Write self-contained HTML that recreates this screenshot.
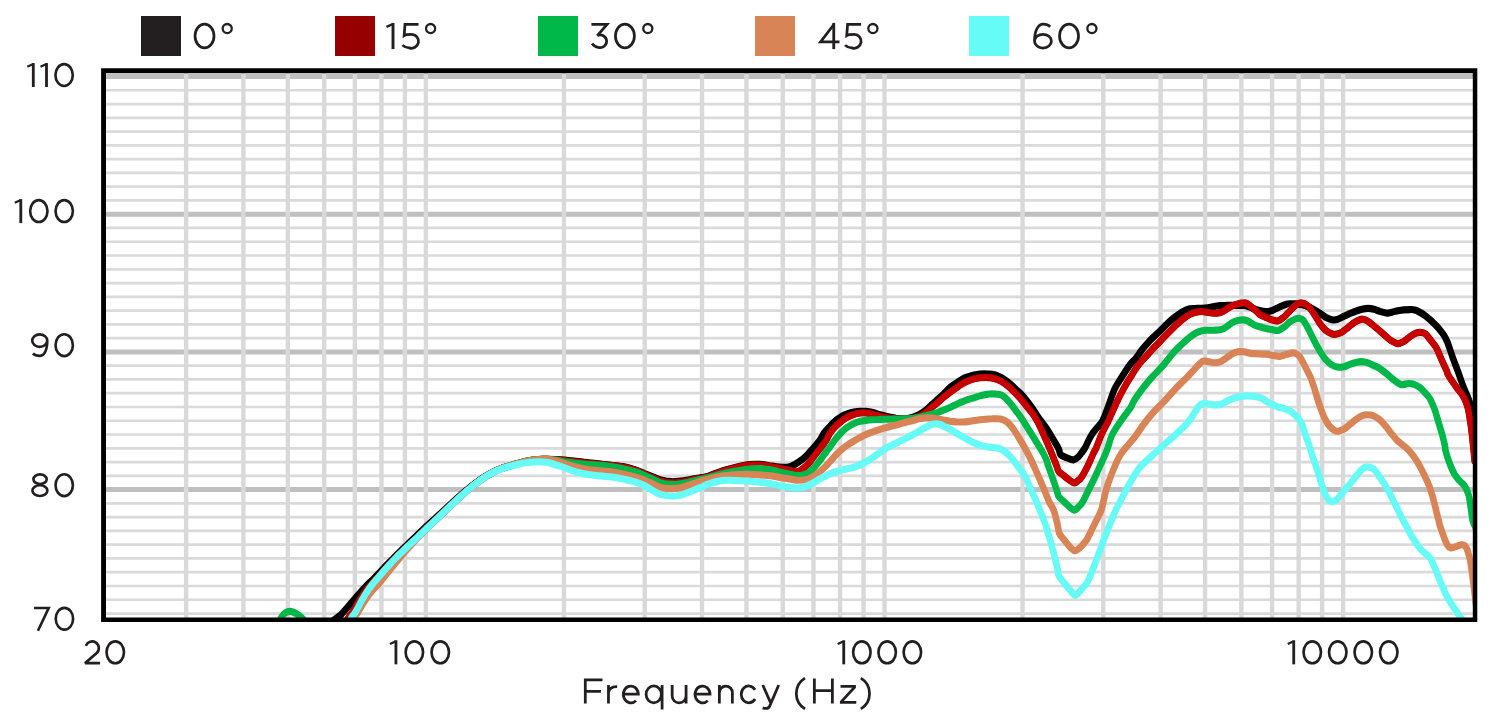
<!DOCTYPE html>
<html><head><meta charset="utf-8"><title>Frequency response</title>
<style>html,body{margin:0;padding:0;background:#fff;}body{width:1501px;height:721px;overflow:hidden;}svg{display:block;}text{font-family:"Liberation Sans",sans-serif;fill:#231f20;fill-opacity:0;stroke:none;}</style></head><body>
<svg width="1501" height="721" viewBox="0 0 1501 721">
<rect width="1501" height="721" fill="#fff"/>
<defs><clipPath id="c"><rect x="103.5" y="70.7" width="1371.4" height="548.9"/></clipPath></defs>
<g clip-path="url(#c)">
<path d="M103.5 613.53H1474.9M103.5 599.76H1474.9M103.5 585.99H1474.9M103.5 572.22H1474.9M103.5 558.45H1474.9M103.5 544.68H1474.9M103.5 530.91H1474.9M103.5 517.14H1474.9M103.5 503.37H1474.9M103.5 475.83H1474.9M103.5 462.06H1474.9M103.5 448.29H1474.9M103.5 434.52H1474.9M103.5 420.75H1474.9M103.5 406.98H1474.9M103.5 393.21H1474.9M103.5 379.44H1474.9M103.5 365.67H1474.9M103.5 338.13H1474.9M103.5 324.36H1474.9M103.5 310.59H1474.9M103.5 296.82H1474.9M103.5 283.05H1474.9M103.5 269.28H1474.9M103.5 255.51H1474.9M103.5 241.74H1474.9M103.5 227.97H1474.9M103.5 200.43H1474.9M103.5 186.66H1474.9M103.5 172.89H1474.9M103.5 159.12H1474.9M103.5 145.35H1474.9M103.5 131.58H1474.9M103.5 117.81H1474.9M103.5 104.04H1474.9M103.5 90.27H1474.9" stroke="#dadada" stroke-width="2.7" fill="none"/>
<path d="M103.5 627.30H1474.9M103.5 489.60H1474.9M103.5 351.90H1474.9M103.5 214.20H1474.9M103.5 76.50H1474.9" stroke="#bfbfbf" stroke-width="5" fill="none"/>
<path d="M186.11 70.7V619.6M243.40 70.7V619.6M287.85 70.7V619.6M324.16 70.7V619.6M354.86 70.7V619.6M381.46 70.7V619.6M404.92 70.7V619.6M425.90 70.7V619.6M563.95 70.7V619.6M644.71 70.7V619.6M702.00 70.7V619.6M746.45 70.7V619.6M782.76 70.7V619.6M813.46 70.7V619.6M840.06 70.7V619.6M863.52 70.7V619.6M884.50 70.7V619.6M1022.55 70.7V619.6M1103.31 70.7V619.6M1160.60 70.7V619.6M1205.05 70.7V619.6M1241.36 70.7V619.6M1272.06 70.7V619.6M1298.66 70.7V619.6M1322.12 70.7V619.6M1343.10 70.7V619.6" stroke="#d9d9d9" stroke-width="4.4" fill="none"/>
<g transform="scale(0.930,1)">
<path d="M341.4 632.0C345.1 629.5 359.1 620.1 363.5 617.0C367.9 613.9 366.1 615.2 367.8 613.5C369.6 611.8 372.3 608.8 374.0 607.0C375.6 605.2 376.5 604.1 377.7 602.8C379.0 601.5 379.7 600.6 381.3 599.0C382.8 597.4 384.9 595.2 387.0 593.0C389.1 590.8 391.5 588.2 393.8 586.0C396.1 583.8 398.4 581.8 400.9 579.5C403.3 577.2 406.2 574.6 408.6 572.2C411.0 569.8 413.2 567.6 415.5 565.3C417.9 563.0 420.3 560.7 422.7 558.5C425.1 556.2 427.6 553.9 430.2 551.6C432.7 549.3 435.4 547.0 438.0 544.7C440.5 542.4 443.1 540.1 445.6 537.8C448.2 535.5 449.8 533.9 453.3 530.9C456.8 527.9 462.2 523.3 466.7 519.6C471.1 515.8 475.5 511.9 479.9 508.2C484.4 504.4 488.7 500.6 493.1 497.0C497.5 493.4 501.9 489.8 506.3 486.6C510.7 483.4 515.8 480.1 519.5 477.8C523.2 475.6 525.3 474.5 528.4 473.0C531.4 471.5 534.3 470.2 537.6 469.0C541.0 467.8 544.8 466.8 548.4 465.8C552.0 464.8 555.6 463.9 559.1 463.0C562.7 462.1 566.6 461.2 569.9 460.6C573.2 460.0 576.2 459.7 579.1 459.5C582.1 459.3 584.8 459.4 587.7 459.4C590.7 459.4 593.7 459.5 596.8 459.6C599.9 459.7 602.7 459.8 606.4 460.1C610.2 460.4 615.0 461.0 619.3 461.4C623.6 461.9 627.9 462.3 632.2 462.7C636.5 463.2 640.8 463.6 645.1 464.1C649.4 464.5 653.7 464.8 658.0 465.3C662.3 465.7 666.6 466.0 670.9 466.8C675.2 467.6 680.1 468.9 683.8 470.1C687.5 471.2 690.0 472.4 693.2 473.7C696.4 474.9 700.4 476.4 703.1 477.4C705.9 478.4 707.4 479.0 709.6 479.7C711.7 480.3 713.9 480.7 716.0 481.1C718.2 481.4 720.3 481.6 722.5 481.7C724.6 481.7 726.8 481.6 728.9 481.4C731.1 481.3 732.2 481.3 735.4 480.8C738.6 480.4 745.0 479.1 748.3 478.6C751.5 478.0 752.6 478.0 754.7 477.6C756.9 477.3 757.2 477.6 761.2 476.4C765.1 475.2 771.6 472.3 778.5 470.4C785.3 468.5 795.9 465.9 802.3 464.9C808.8 463.9 812.5 464.2 817.2 464.4C821.8 464.6 826.0 465.6 830.1 466.1C834.1 466.6 838.4 467.2 841.7 467.3C844.9 467.4 847.0 467.2 849.4 466.6C851.8 466.0 853.7 465.0 855.8 463.8C858.0 462.7 860.1 461.3 862.3 459.7C864.4 458.1 866.6 456.3 868.7 454.2C870.9 452.2 873.0 449.7 875.2 447.4C877.3 445.1 879.8 442.6 881.6 440.2C883.4 437.8 884.2 435.5 886.0 433.1C887.8 430.8 890.3 428.3 892.5 426.2C894.6 424.1 896.7 422.1 898.9 420.4C901.0 418.8 903.2 417.5 905.3 416.3C907.5 415.2 909.6 414.4 911.8 413.7C913.9 413.0 916.1 412.5 918.2 412.1C920.4 411.7 922.5 411.4 924.7 411.3C926.8 411.2 929.0 411.1 931.1 411.3C933.3 411.5 935.4 411.8 937.6 412.3C939.7 412.7 941.9 413.6 944.0 414.2C946.2 414.8 948.3 415.2 950.5 415.7C952.6 416.2 954.8 416.8 956.9 417.2C959.1 417.6 961.2 418.0 963.4 418.3C965.5 418.5 967.7 418.8 969.8 418.9C972.0 418.9 974.1 418.7 976.3 418.4C978.4 418.0 980.6 417.5 982.7 416.8C984.9 416.1 987.0 415.3 989.2 414.2C991.3 413.0 993.5 411.6 995.6 410.0C997.8 408.4 999.9 406.4 1002.1 404.6C1004.2 402.8 1006.4 401.0 1008.5 399.2C1010.7 397.4 1012.8 395.7 1014.9 393.8C1017.1 391.9 1019.3 389.3 1021.5 387.6C1023.7 385.8 1025.8 384.6 1028.0 383.3C1030.1 381.9 1032.3 380.4 1034.4 379.3C1036.5 378.2 1038.7 377.5 1040.8 376.8C1043.0 376.1 1045.1 375.4 1047.3 375.0C1049.4 374.5 1051.6 374.3 1053.7 374.0C1055.9 373.8 1058.0 373.6 1060.2 373.7C1062.3 373.7 1064.5 373.9 1066.6 374.3C1068.8 374.7 1070.9 375.2 1073.1 376.1C1075.2 376.9 1077.4 377.9 1079.5 379.2C1081.7 380.5 1083.8 382.0 1086.0 383.7C1088.1 385.4 1090.1 387.3 1092.4 389.4C1094.7 391.4 1096.9 392.9 1099.8 396.0C1102.7 399.1 1106.7 404.0 1109.8 408.0C1112.9 412.0 1115.7 416.3 1118.5 420.0C1121.2 423.6 1123.8 426.3 1126.4 430.0C1129.0 433.7 1132.1 438.8 1134.1 442.0C1136.2 445.2 1137.5 447.1 1138.5 449.2C1139.6 451.3 1138.9 453.1 1140.3 454.6C1141.8 456.0 1144.7 456.9 1147.0 457.8C1149.4 458.7 1152.3 460.0 1154.4 459.9C1156.4 459.7 1157.9 458.1 1159.3 457.0C1160.6 455.9 1161.3 454.9 1162.5 453.4C1163.7 451.9 1164.6 451.1 1166.6 448.0C1168.5 444.9 1170.8 439.0 1174.0 434.5C1177.1 430.0 1182.6 425.3 1185.5 420.8C1188.4 416.2 1189.2 412.3 1191.4 407.0C1193.6 401.7 1196.0 394.0 1198.5 389.0C1201.0 384.0 1203.6 381.0 1206.3 377.0C1209.0 373.0 1212.2 368.2 1214.8 365.0C1217.3 361.8 1219.3 360.6 1221.5 358.0C1223.7 355.5 1225.8 352.3 1227.9 349.8C1230.1 347.2 1232.2 344.9 1234.4 342.7C1236.5 340.5 1238.6 338.7 1240.8 336.7C1243.0 334.7 1245.5 332.5 1247.7 330.6C1249.8 328.6 1251.6 326.8 1253.7 324.9C1255.8 323.1 1258.0 321.1 1260.2 319.4C1262.3 317.7 1264.5 316.3 1266.6 314.9C1268.8 313.5 1270.9 312.0 1273.1 311.0C1275.2 310.0 1277.4 309.2 1279.5 308.7C1281.7 308.3 1283.8 308.3 1286.0 308.3C1288.1 308.2 1290.2 308.4 1292.4 308.3C1294.5 308.2 1296.7 308.0 1298.8 307.7C1301.0 307.4 1303.1 306.8 1305.3 306.5C1307.4 306.1 1309.6 305.7 1311.7 305.5C1313.9 305.3 1316.0 305.3 1318.2 305.3C1320.3 305.2 1322.5 305.2 1324.6 305.3C1326.8 305.3 1328.9 305.3 1331.1 305.4C1333.2 305.4 1335.4 305.3 1337.5 305.6C1339.7 305.9 1341.8 306.4 1344.0 307.1C1346.1 307.7 1347.1 308.7 1350.4 309.5C1353.7 310.2 1359.9 311.8 1363.9 311.5C1367.8 311.2 1371.0 308.9 1374.2 307.7C1377.4 306.4 1380.8 304.8 1383.2 304.2C1385.6 303.5 1386.6 303.7 1388.4 303.7C1390.1 303.7 1391.6 303.8 1393.5 303.9C1395.5 304.1 1397.8 304.3 1400.0 304.8C1402.1 305.2 1404.3 305.8 1406.4 306.6C1408.6 307.4 1410.7 308.5 1412.9 309.6C1415.0 310.7 1417.2 311.9 1419.3 313.2C1421.5 314.5 1423.4 316.3 1425.8 317.4C1428.1 318.5 1431.3 319.6 1433.5 319.9C1435.6 320.2 1436.7 319.7 1438.7 319.1C1440.6 318.5 1443.0 317.2 1445.1 316.3C1447.2 315.4 1449.4 314.4 1451.5 313.5C1453.7 312.7 1455.8 311.9 1458.0 311.1C1460.1 310.4 1462.3 309.7 1464.4 309.2C1466.6 308.8 1468.7 308.4 1470.9 308.4C1473.0 308.4 1475.2 308.7 1477.3 309.2C1479.5 309.7 1481.4 310.7 1483.8 311.4C1486.1 312.0 1489.4 312.9 1491.5 313.1C1493.7 313.2 1494.7 312.6 1496.7 312.2C1498.6 311.8 1501.0 311.2 1503.1 310.8C1505.3 310.4 1507.4 310.1 1509.6 309.9C1511.7 309.7 1514.2 309.6 1516.0 309.6C1517.8 309.6 1518.5 309.3 1520.3 309.8C1522.0 310.2 1524.5 311.1 1526.7 312.2C1528.8 313.2 1530.9 314.6 1533.1 316.1C1535.2 317.6 1537.3 319.4 1539.5 321.2C1541.6 323.1 1544.2 325.4 1545.9 327.2C1547.6 328.9 1548.6 330.2 1549.7 331.6C1550.9 333.0 1551.9 334.1 1552.9 335.8C1554.0 337.4 1555.2 339.7 1556.1 341.7C1557.1 343.7 1557.3 344.7 1558.5 347.7C1559.6 350.7 1561.3 355.6 1562.8 359.6C1564.4 363.6 1565.9 367.0 1567.7 371.5C1569.5 376.1 1571.7 382.4 1573.6 386.9C1575.5 391.5 1577.4 395.1 1579.0 398.8C1580.5 402.6 1581.7 406.0 1583.1 409.6C1584.4 413.1 1586.3 418.5 1586.9 420.3" stroke="#000000" stroke-width="7.1" fill="none" stroke-linejoin="round" stroke-linecap="round"/>
<path d="M365.1 632.0C366.7 629.5 372.9 620.1 375.1 617.0C377.3 613.9 376.9 615.2 378.1 613.5C379.3 611.8 381.2 608.8 382.4 607.0C383.5 605.2 384.1 604.1 384.9 602.8C385.8 601.5 386.3 600.6 387.4 599.0C388.5 597.4 389.9 595.2 391.6 593.0C393.3 590.8 395.4 588.2 397.4 586.0C399.4 583.8 401.5 581.8 403.7 579.5C406.0 577.2 408.6 574.6 411.0 572.2C413.3 569.8 415.4 567.6 417.7 565.3C420.0 563.0 422.2 560.7 424.6 558.5C427.0 556.2 429.6 553.9 432.2 551.6C434.7 549.3 437.4 547.0 440.0 544.7C442.6 542.4 445.3 540.1 447.9 537.8C450.5 535.5 452.3 533.9 455.7 530.9C459.2 527.9 464.1 523.3 468.4 519.6C472.7 515.8 477.0 511.9 481.3 508.2C485.6 504.4 489.9 500.6 494.2 497.0C498.5 493.4 502.8 489.8 507.1 486.6C511.4 483.4 516.4 480.1 520.0 477.8C523.6 475.6 525.8 474.5 528.7 473.0C531.6 471.5 534.4 470.2 537.6 469.0C540.9 467.8 544.8 466.8 548.4 465.8C552.0 464.8 555.6 463.9 559.1 463.0C562.7 462.1 566.6 461.2 569.9 460.6C573.2 460.0 576.2 459.7 579.1 459.5C582.1 459.3 584.8 459.4 587.7 459.4C590.7 459.4 593.7 459.5 596.8 459.7C599.9 459.9 602.7 460.2 606.4 460.6C610.2 461.0 615.0 461.5 619.3 461.9C623.6 462.3 627.9 462.8 632.2 463.2C636.5 463.6 640.8 464.0 645.1 464.4C649.4 464.8 653.7 465.1 658.0 465.6C662.3 466.1 666.6 466.5 670.9 467.3C675.2 468.1 680.1 469.4 683.8 470.5C687.5 471.7 690.0 473.0 693.2 474.3C696.4 475.5 700.4 477.1 703.1 478.2C705.9 479.3 707.4 480.2 709.6 480.8C711.7 481.5 713.9 481.9 716.0 482.3C718.2 482.6 720.3 482.8 722.5 482.9C724.6 482.9 726.8 482.7 728.9 482.5C731.1 482.3 732.2 482.2 735.4 481.7C738.6 481.1 745.0 479.8 748.3 479.2C751.5 478.6 752.6 478.5 754.7 478.1C756.9 477.7 757.2 478.0 761.2 476.8C765.1 475.6 771.6 472.9 778.5 471.0C785.3 469.1 795.9 466.5 802.3 465.5C808.8 464.5 812.5 464.8 817.2 465.0C821.8 465.2 826.0 466.2 830.1 466.8C834.1 467.5 837.8 468.1 841.7 468.9C845.5 469.6 850.5 470.8 853.3 471.3C856.1 471.7 856.9 471.9 858.4 471.6C859.9 471.3 860.6 470.6 862.3 469.3C864.0 468.1 866.6 466.3 868.7 464.2C870.9 462.0 873.0 458.9 875.2 456.4C877.3 453.8 879.5 451.5 881.6 449.0C883.8 446.4 886.3 443.4 888.1 440.8C889.9 438.2 890.6 435.6 892.5 433.1C894.3 430.6 896.7 428.0 898.9 425.9C901.0 423.9 903.2 422.3 905.3 420.8C907.5 419.3 909.6 418.0 911.8 416.9C913.9 415.9 916.1 415.1 918.2 414.4C920.4 413.8 922.5 413.4 924.7 413.1C926.8 412.8 929.0 412.7 931.1 412.9C933.3 413.0 935.4 413.6 937.6 414.1C939.7 414.5 941.9 415.1 944.0 415.6C946.2 416.1 948.3 416.6 950.5 417.1C952.6 417.5 954.8 417.9 956.9 418.3C959.1 418.6 961.2 418.8 963.4 419.0C965.5 419.1 967.7 419.2 969.8 419.2C972.0 419.2 974.1 419.1 976.3 419.0C978.4 418.8 980.6 418.7 982.7 418.3C984.9 417.8 987.0 417.0 989.2 416.1C991.3 415.2 993.5 414.1 995.6 412.6C997.8 411.2 999.9 409.0 1002.1 407.3C1004.2 405.7 1006.4 404.2 1008.5 402.5C1010.7 400.8 1012.8 398.8 1014.9 397.1C1017.1 395.5 1019.3 393.9 1021.5 392.4C1023.7 390.9 1025.8 389.5 1028.0 388.1C1030.1 386.7 1032.3 385.2 1034.4 384.0C1036.5 382.8 1038.7 381.8 1040.8 381.0C1043.0 380.1 1045.1 379.5 1047.3 378.9C1049.4 378.4 1051.6 378.0 1053.7 377.7C1055.9 377.5 1058.0 377.3 1060.2 377.4C1062.3 377.4 1064.5 377.6 1066.6 378.0C1068.8 378.4 1070.9 378.9 1073.1 379.8C1075.2 380.6 1077.4 381.7 1079.5 383.0C1081.7 384.4 1083.8 386.0 1086.0 387.8C1088.1 389.6 1090.3 391.7 1092.4 393.8C1094.6 395.9 1096.7 398.1 1098.9 400.4C1101.0 402.8 1102.8 404.7 1105.4 408.0C1108.1 411.2 1111.4 414.3 1114.7 420.0C1118.1 425.6 1122.9 436.3 1125.6 442.0C1128.4 447.7 1129.3 450.0 1131.1 454.0C1132.8 458.0 1135.0 463.1 1136.2 466.0C1137.4 468.9 1137.1 469.9 1138.3 471.4C1139.4 472.9 1141.7 473.9 1143.2 475.0C1144.6 476.1 1145.1 476.7 1147.0 478.0C1149.0 479.3 1152.7 482.4 1154.8 482.8C1156.8 483.2 1158.0 481.3 1159.3 480.4C1160.6 479.5 1161.1 479.8 1162.8 477.4C1164.5 475.0 1167.5 469.9 1169.6 466.0C1171.7 462.1 1173.9 457.0 1175.4 454.0C1176.9 451.0 1177.2 451.2 1178.7 448.0C1180.2 444.8 1182.2 439.0 1184.4 434.5C1186.6 430.0 1189.5 425.3 1191.8 420.8C1194.2 416.2 1196.9 410.3 1198.5 407.0C1200.1 403.7 1199.8 404.0 1201.4 401.0C1203.0 398.0 1205.6 393.0 1208.0 389.0C1210.3 385.0 1213.0 381.0 1215.7 377.0C1218.4 373.0 1221.0 368.8 1224.1 365.0C1227.2 361.2 1231.6 357.2 1234.4 354.3C1237.2 351.4 1238.6 349.8 1240.8 347.6C1243.0 345.4 1245.5 343.2 1247.7 341.1C1249.8 339.0 1251.6 337.1 1253.7 335.1C1255.8 333.1 1258.0 331.1 1260.2 329.1C1262.3 327.2 1264.5 325.2 1266.6 323.4C1268.8 321.6 1270.9 319.8 1273.1 318.3C1275.2 316.8 1277.4 315.4 1279.5 314.4C1281.7 313.4 1283.8 312.7 1286.0 312.2C1288.1 311.7 1290.2 311.5 1292.4 311.5C1294.5 311.5 1296.7 312.2 1298.8 312.5C1301.0 312.7 1303.1 313.1 1305.3 313.2C1307.4 313.2 1310.0 313.0 1311.7 312.7C1313.5 312.4 1314.3 311.8 1315.6 311.1C1316.9 310.5 1318.0 309.6 1319.5 308.7C1321.0 307.9 1322.7 306.8 1324.6 306.0C1326.6 305.2 1328.9 304.5 1331.1 303.9C1333.2 303.4 1335.8 302.9 1337.5 302.9C1339.2 302.8 1340.1 303.2 1341.4 303.8C1342.7 304.5 1343.8 305.5 1345.3 306.7C1346.8 307.9 1348.8 309.5 1350.4 310.8C1352.0 312.1 1353.0 313.5 1354.8 314.6C1356.6 315.7 1359.1 316.5 1361.3 317.4C1363.4 318.3 1365.6 319.3 1367.7 319.9C1369.9 320.5 1372.0 321.3 1374.2 320.9C1376.3 320.4 1378.5 318.8 1380.6 317.1C1382.8 315.5 1384.9 312.8 1387.1 310.8C1389.2 308.8 1391.5 306.3 1393.5 305.0C1395.6 303.7 1397.2 302.7 1399.3 302.9C1401.5 303.0 1404.2 304.2 1406.4 306.0C1408.7 307.8 1410.7 310.8 1412.9 313.8C1415.0 316.7 1417.2 320.8 1419.3 323.6C1421.5 326.4 1423.6 328.9 1425.8 330.6C1427.9 332.3 1430.5 333.3 1432.2 333.9C1433.9 334.5 1434.4 334.5 1436.1 334.3C1437.8 334.0 1440.4 333.4 1442.5 332.4C1444.7 331.3 1446.8 329.4 1449.0 327.8C1451.1 326.3 1453.3 324.4 1455.4 323.0C1457.6 321.7 1460.1 320.4 1461.9 319.8C1463.6 319.1 1464.2 318.9 1465.7 319.2C1467.2 319.4 1469.0 320.1 1470.9 321.2C1472.8 322.4 1475.2 324.4 1477.3 326.0C1479.5 327.7 1481.6 329.3 1483.8 331.0C1485.9 332.8 1488.1 334.6 1490.2 336.3C1492.4 338.0 1494.5 339.9 1496.7 341.1C1498.8 342.4 1501.0 343.7 1503.1 343.8C1505.3 343.8 1507.4 342.5 1509.6 341.4C1511.7 340.2 1513.9 338.0 1516.0 336.7C1518.2 335.3 1520.5 333.9 1522.5 333.2C1524.4 332.5 1525.9 332.2 1527.6 332.4C1529.4 332.5 1531.4 333.0 1533.1 334.2C1534.7 335.4 1535.7 337.1 1537.6 339.3C1539.4 341.6 1542.3 344.3 1544.4 347.7C1546.4 351.1 1548.1 355.6 1550.0 359.6C1551.9 363.6 1554.7 369.0 1555.9 371.5C1557.1 374.1 1555.5 372.4 1557.2 375.0C1558.8 377.6 1563.5 383.9 1565.8 386.9C1568.0 389.9 1569.4 390.9 1570.9 392.9C1572.4 394.9 1573.7 396.9 1574.7 398.8C1575.8 400.8 1576.6 402.8 1577.3 404.8C1578.0 406.8 1578.3 407.8 1579.0 410.8C1579.6 413.7 1580.5 418.7 1581.1 422.7C1581.8 426.7 1582.3 430.6 1582.8 434.6C1583.3 438.6 1583.6 442.2 1584.1 446.5C1584.6 450.9 1585.4 458.4 1585.6 460.8" stroke="#8c0000" stroke-width="7.1" fill="none" stroke-linejoin="round" stroke-linecap="round"/>
<path d="M365.1 632.0C366.7 629.5 372.9 620.1 375.1 617.0C377.3 613.9 376.9 615.2 378.1 613.5C379.3 611.8 381.2 608.8 382.4 607.0C383.5 605.2 384.1 604.1 384.9 602.8C385.8 601.5 386.3 600.6 387.4 599.0C388.5 597.4 389.9 595.2 391.6 593.0C393.3 590.8 395.4 588.2 397.4 586.0C399.4 583.8 401.5 581.8 403.7 579.5C406.0 577.2 408.6 574.6 411.0 572.2C413.3 569.8 415.4 567.6 417.7 565.3C420.0 563.0 422.2 560.7 424.6 558.5C427.0 556.2 429.6 553.9 432.2 551.6C434.7 549.3 437.4 547.0 440.0 544.7C442.6 542.4 445.3 540.1 447.9 537.8C450.5 535.5 452.3 533.9 455.7 530.9C459.2 527.9 464.1 523.3 468.4 519.6C472.7 515.8 477.0 511.9 481.3 508.2C485.6 504.4 489.9 500.6 494.2 497.0C498.5 493.4 502.8 489.8 507.1 486.6C511.4 483.4 516.4 480.1 520.0 477.8C523.6 475.6 525.8 474.5 528.7 473.0C531.6 471.5 534.4 470.2 537.6 469.0C540.9 467.8 544.8 466.8 548.4 465.8C552.0 464.8 555.6 463.9 559.1 463.0C562.7 462.1 566.6 461.2 569.9 460.6C573.2 460.0 576.2 459.7 579.1 459.5C582.1 459.3 584.8 459.4 587.7 459.4C590.7 459.4 593.7 459.5 596.8 459.7C599.9 459.9 602.7 460.2 606.4 460.6C610.2 461.0 615.0 461.5 619.3 461.9C623.6 462.3 627.9 462.8 632.2 463.2C636.5 463.6 640.8 464.0 645.1 464.4C649.4 464.8 653.7 465.1 658.0 465.6C662.3 466.1 666.6 466.5 670.9 467.3C675.2 468.1 680.1 469.4 683.8 470.5C687.5 471.7 690.0 473.0 693.2 474.3C696.4 475.5 700.4 477.1 703.1 478.2C705.9 479.3 707.4 480.2 709.6 480.8C711.7 481.5 713.9 481.9 716.0 482.3C718.2 482.6 720.3 482.8 722.5 482.9C724.6 482.9 726.8 482.7 728.9 482.5C731.1 482.3 732.2 482.2 735.4 481.7C738.6 481.1 745.0 479.8 748.3 479.2C751.5 478.6 752.6 478.5 754.7 478.1C756.9 477.7 757.2 478.0 761.2 476.8C765.1 475.6 771.6 472.9 778.5 471.0C785.3 469.1 795.9 466.5 802.3 465.5C808.8 464.5 812.5 464.8 817.2 465.0C821.8 465.2 826.0 466.2 830.1 466.8C834.1 467.5 837.8 468.1 841.7 468.9C845.5 469.6 850.5 470.8 853.3 471.3C856.1 471.7 856.9 471.9 858.4 471.6C859.9 471.3 860.6 470.6 862.3 469.3C864.0 468.1 866.6 466.3 868.7 464.2C870.9 462.0 873.0 458.9 875.2 456.4C877.3 453.8 879.5 451.5 881.6 449.0C883.8 446.4 886.3 443.4 888.1 440.8C889.9 438.2 890.6 435.6 892.5 433.1C894.3 430.6 896.7 428.0 898.9 425.9C901.0 423.9 903.2 422.3 905.3 420.8C907.5 419.3 909.6 418.0 911.8 416.9C913.9 415.9 916.1 415.1 918.2 414.4C920.4 413.8 922.5 413.4 924.7 413.1C926.8 412.8 929.0 412.7 931.1 412.9C933.3 413.0 935.4 413.6 937.6 414.1C939.7 414.5 941.9 415.1 944.0 415.6C946.2 416.1 948.3 416.6 950.5 417.1C952.6 417.5 954.8 417.9 956.9 418.3C959.1 418.6 961.2 418.8 963.4 419.0C965.5 419.1 967.7 419.2 969.8 419.2C972.0 419.2 974.1 419.1 976.3 419.0C978.4 418.8 980.6 418.7 982.7 418.3C984.9 417.8 987.0 417.0 989.2 416.1C991.3 415.2 993.5 414.1 995.6 412.6C997.8 411.2 999.9 409.0 1002.1 407.3C1004.2 405.7 1006.4 404.2 1008.5 402.5C1010.7 400.8 1012.8 398.8 1014.9 397.1C1017.1 395.5 1019.3 393.9 1021.5 392.4C1023.7 390.9 1025.8 389.5 1028.0 388.1C1030.1 386.7 1032.3 385.2 1034.4 384.0C1036.5 382.8 1038.7 381.8 1040.8 381.0C1043.0 380.1 1045.1 379.5 1047.3 378.9C1049.4 378.4 1051.6 378.0 1053.7 377.7C1055.9 377.5 1058.0 377.3 1060.2 377.4C1062.3 377.4 1064.5 377.6 1066.6 378.0C1068.8 378.4 1070.9 378.9 1073.1 379.8C1075.2 380.6 1077.4 381.7 1079.5 383.0C1081.7 384.4 1083.8 386.0 1086.0 387.8C1088.1 389.6 1090.3 391.7 1092.4 393.8C1094.6 395.9 1096.7 398.1 1098.9 400.4C1101.0 402.8 1102.8 404.7 1105.4 408.0C1108.1 411.2 1111.4 414.3 1114.7 420.0C1118.1 425.6 1122.9 436.3 1125.6 442.0C1128.4 447.7 1129.3 450.0 1131.1 454.0C1132.8 458.0 1135.0 463.1 1136.2 466.0C1137.4 468.9 1137.1 469.9 1138.3 471.4C1139.4 472.9 1141.7 473.9 1143.2 475.0C1144.6 476.1 1145.1 476.7 1147.0 478.0C1149.0 479.3 1152.7 482.4 1154.8 482.8C1156.8 483.2 1158.0 481.3 1159.3 480.4C1160.6 479.5 1161.1 479.8 1162.8 477.4C1164.5 475.0 1167.5 469.9 1169.6 466.0C1171.7 462.1 1173.9 457.0 1175.4 454.0C1176.9 451.0 1177.2 451.2 1178.7 448.0C1180.2 444.8 1182.2 439.0 1184.4 434.5C1186.6 430.0 1189.5 425.3 1191.8 420.8C1194.2 416.2 1196.9 410.3 1198.5 407.0C1200.1 403.7 1199.8 404.0 1201.4 401.0C1203.0 398.0 1205.6 393.0 1208.0 389.0C1210.3 385.0 1213.0 381.0 1215.7 377.0C1218.4 373.0 1221.0 368.8 1224.1 365.0C1227.2 361.2 1231.6 357.2 1234.4 354.3C1237.2 351.4 1238.6 349.8 1240.8 347.6C1243.0 345.4 1245.5 343.2 1247.7 341.1C1249.8 339.0 1251.6 337.1 1253.7 335.1C1255.8 333.1 1258.0 331.1 1260.2 329.1C1262.3 327.2 1264.5 325.2 1266.6 323.4C1268.8 321.6 1270.9 319.8 1273.1 318.3C1275.2 316.8 1277.4 315.4 1279.5 314.4C1281.7 313.4 1283.8 312.7 1286.0 312.2C1288.1 311.7 1290.2 311.5 1292.4 311.5C1294.5 311.5 1296.7 312.2 1298.8 312.5C1301.0 312.7 1303.1 313.1 1305.3 313.2C1307.4 313.2 1310.0 313.0 1311.7 312.7C1313.5 312.4 1314.3 311.8 1315.6 311.1C1316.9 310.5 1318.0 309.6 1319.5 308.7C1321.0 307.9 1322.7 306.8 1324.6 306.0C1326.6 305.2 1328.9 304.5 1331.1 303.9C1333.2 303.4 1335.8 302.9 1337.5 302.9C1339.2 302.8 1340.1 303.2 1341.4 303.8C1342.7 304.5 1343.8 305.5 1345.3 306.7C1346.8 307.9 1348.8 309.5 1350.4 310.8C1352.0 312.1 1353.0 313.5 1354.8 314.6C1356.6 315.7 1359.1 316.5 1361.3 317.4C1363.4 318.3 1365.6 319.3 1367.7 319.9C1369.9 320.5 1372.0 321.3 1374.2 320.9C1376.3 320.4 1378.5 318.8 1380.6 317.1C1382.8 315.5 1384.9 312.8 1387.1 310.8C1389.2 308.8 1391.5 306.3 1393.5 305.0C1395.6 303.7 1397.2 302.7 1399.3 302.9C1401.5 303.0 1404.2 304.2 1406.4 306.0C1408.7 307.8 1410.7 310.8 1412.9 313.8C1415.0 316.7 1417.2 320.8 1419.3 323.6C1421.5 326.4 1423.6 328.9 1425.8 330.6C1427.9 332.3 1430.5 333.3 1432.2 333.9C1433.9 334.5 1434.4 334.5 1436.1 334.3C1437.8 334.0 1440.4 333.4 1442.5 332.4C1444.7 331.3 1446.8 329.4 1449.0 327.8C1451.1 326.3 1453.3 324.4 1455.4 323.0C1457.6 321.7 1460.1 320.4 1461.9 319.8C1463.6 319.1 1464.2 318.9 1465.7 319.2C1467.2 319.4 1469.0 320.1 1470.9 321.2C1472.8 322.4 1475.2 324.4 1477.3 326.0C1479.5 327.7 1481.6 329.3 1483.8 331.0C1485.9 332.8 1488.1 334.6 1490.2 336.3C1492.4 338.0 1494.5 339.9 1496.7 341.1C1498.8 342.4 1501.0 343.7 1503.1 343.8C1505.3 343.8 1507.4 342.5 1509.6 341.4C1511.7 340.2 1513.9 338.0 1516.0 336.7C1518.2 335.3 1520.5 333.9 1522.5 333.2C1524.4 332.5 1525.9 332.2 1527.6 332.4C1529.4 332.5 1531.4 333.0 1533.1 334.2C1534.7 335.4 1535.7 337.1 1537.6 339.3C1539.4 341.6 1542.3 344.3 1544.4 347.7C1546.4 351.1 1548.1 355.6 1550.0 359.6C1551.9 363.6 1554.7 369.0 1555.9 371.5C1557.1 374.1 1555.5 372.4 1557.2 375.0C1558.8 377.6 1563.5 383.9 1565.8 386.9C1568.0 389.9 1569.4 390.9 1570.9 392.9C1572.4 394.9 1573.7 396.9 1574.7 398.8C1575.8 400.8 1576.6 402.8 1577.3 404.8C1578.0 406.8 1578.3 407.8 1579.0 410.8C1579.6 413.7 1580.5 418.7 1581.1 422.7C1581.8 426.7 1582.3 430.6 1582.8 434.6C1583.3 438.6 1583.6 442.2 1584.1 446.5C1584.6 450.9 1585.4 458.4 1585.6 460.8" stroke="#c80000" stroke-width="6.4" fill="none" stroke-linejoin="round" stroke-linecap="round"/>
<path d="M296.8 626.0C297.7 624.6 300.8 619.9 302.4 617.7C304.0 615.5 304.8 614.0 306.5 613.0C308.1 612.0 310.4 611.3 312.4 611.4C314.3 611.5 316.3 612.5 318.3 613.5C320.3 614.5 322.6 616.1 324.4 617.7C326.2 619.3 328.3 622.1 329.0 623.0" stroke="#00b84a" stroke-width="7.1" fill="none" stroke-linejoin="round" stroke-linecap="round"/>
<path d="M369.4 632.0C370.9 629.5 376.5 620.1 378.5 617.0C380.5 613.9 380.2 615.2 381.3 613.5C382.4 611.8 384.2 608.8 385.3 607.0C386.3 605.2 386.9 604.1 387.6 602.8C388.4 601.5 388.9 600.6 389.9 599.0C390.9 597.4 392.2 595.2 393.8 593.0C395.3 590.8 397.2 588.2 399.0 586.0C400.9 583.8 402.8 581.8 404.9 579.5C407.1 577.2 409.5 574.6 411.7 572.2C413.9 569.8 416.1 567.6 418.3 565.3C420.5 563.0 422.7 560.7 425.1 558.5C427.4 556.2 430.0 553.9 432.6 551.6C435.1 549.3 437.8 547.0 440.4 544.7C443.0 542.4 445.7 540.1 448.3 537.8C450.9 535.5 452.7 533.9 456.1 530.9C459.5 527.9 464.5 523.3 468.8 519.6C473.1 515.8 477.4 511.9 481.7 508.2C486.0 504.4 490.3 500.6 494.6 497.0C498.9 493.4 503.2 489.8 507.5 486.6C511.8 483.4 516.8 480.1 520.4 477.8C524.0 475.6 526.2 474.5 529.0 473.0C531.9 471.5 534.4 470.2 537.6 469.0C540.9 467.8 544.8 466.8 548.4 465.8C552.0 464.8 555.6 463.9 559.1 463.0C562.7 462.1 566.6 461.2 569.9 460.6C573.2 460.0 576.2 459.7 579.1 459.5C582.1 459.3 584.8 459.3 587.7 459.4C590.7 459.5 593.7 459.7 596.8 460.1C599.9 460.5 602.7 461.1 606.4 461.7C610.2 462.2 615.0 462.9 619.3 463.3C623.6 463.8 627.9 464.2 632.2 464.5C636.5 464.9 640.8 464.9 645.1 465.3C649.4 465.6 653.7 466.1 658.0 466.7C662.3 467.3 666.6 468.0 670.9 468.9C675.2 469.7 680.1 470.9 683.8 472.0C687.5 473.1 690.0 474.2 693.2 475.5C696.4 476.8 700.4 478.6 703.1 479.8C705.9 481.0 707.4 481.9 709.6 482.6C711.7 483.3 713.9 483.7 716.0 484.0C718.2 484.3 720.3 484.4 722.5 484.4C724.6 484.5 726.8 484.4 728.9 484.2C731.1 484.0 732.2 483.9 735.4 483.2C738.6 482.6 745.0 481.1 748.3 480.4C751.5 479.7 752.6 479.5 754.7 479.1C756.9 478.6 757.2 478.7 761.2 477.7C765.1 476.8 771.6 474.8 778.5 473.4C785.3 472.0 795.9 470.3 802.3 469.5C808.8 468.7 812.5 468.5 817.2 468.6C821.8 468.7 826.0 469.4 830.1 470.1C834.1 470.8 837.8 472.0 841.7 472.8C845.5 473.6 850.5 474.4 853.3 474.9C856.1 475.3 856.9 475.4 858.4 475.5C859.9 475.5 860.6 475.5 862.3 475.1C864.0 474.7 866.6 474.4 868.7 473.2C870.9 472.0 873.0 469.9 875.2 467.8C877.3 465.7 879.5 463.2 881.6 460.6C883.8 458.0 886.3 454.5 888.1 452.2C889.9 449.9 890.6 449.2 892.5 446.9C894.3 444.6 896.7 441.0 898.9 438.5C901.0 436.0 903.2 433.9 905.3 431.9C907.5 430.0 909.6 428.2 911.8 426.8C913.9 425.3 916.1 424.3 918.2 423.4C920.4 422.5 922.5 421.9 924.7 421.4C926.8 420.9 929.0 420.7 931.1 420.4C933.3 420.1 935.4 419.9 937.6 419.7C939.7 419.5 941.9 419.5 944.0 419.5C946.2 419.4 948.3 419.4 950.5 419.3C952.6 419.3 954.8 419.3 956.9 419.2C959.1 419.2 961.2 419.1 963.4 419.1C965.5 419.1 967.7 419.0 969.8 419.0C972.0 418.9 974.1 418.9 976.3 418.7C978.4 418.6 980.6 418.5 982.7 418.3C984.9 418.0 987.0 417.6 989.2 417.2C991.3 416.7 993.5 416.1 995.6 415.6C997.8 415.1 999.9 414.6 1002.1 414.1C1004.2 413.5 1006.4 412.9 1008.5 412.3C1010.7 411.6 1012.8 410.8 1014.9 410.0C1017.1 409.2 1019.2 408.3 1021.4 407.5C1023.5 406.6 1025.7 405.6 1027.8 404.7C1030.0 403.8 1032.1 402.8 1034.3 401.9C1036.4 401.1 1038.6 400.2 1040.7 399.5C1042.9 398.9 1045.1 398.4 1047.3 397.8C1049.5 397.2 1051.6 396.4 1053.7 395.9C1055.9 395.3 1058.0 394.9 1060.2 394.5C1062.3 394.2 1064.5 393.9 1066.6 393.8C1068.8 393.8 1071.4 394.0 1073.1 394.2C1074.8 394.4 1075.7 394.5 1077.0 395.1C1078.2 395.7 1079.3 396.5 1080.8 397.8C1082.3 399.1 1084.0 400.8 1086.0 402.9C1087.9 405.1 1090.3 408.0 1092.4 410.7C1094.6 413.4 1093.9 411.9 1098.9 419.1C1103.8 426.3 1117.4 446.2 1122.2 454.0C1126.9 461.8 1125.6 462.0 1127.2 466.0C1128.8 470.0 1130.3 474.0 1131.8 478.0C1133.3 482.0 1135.1 486.9 1136.2 490.0C1137.3 493.1 1137.4 494.8 1138.5 496.6C1139.7 498.4 1141.8 499.5 1143.2 500.8C1144.6 502.1 1145.1 502.8 1147.0 504.3C1149.0 505.9 1152.6 509.7 1154.8 510.1C1156.9 510.5 1158.4 508.1 1159.9 506.7C1161.5 505.4 1162.3 504.7 1164.1 502.0C1165.8 499.2 1168.4 494.0 1170.5 490.0C1172.7 486.0 1174.9 482.0 1177.0 478.0C1179.0 474.0 1180.8 470.0 1182.8 466.0C1184.7 462.0 1187.2 457.0 1188.6 454.0C1189.9 451.0 1189.8 451.2 1191.1 448.0C1192.3 444.8 1193.7 439.0 1196.0 434.5C1198.4 430.0 1201.9 425.3 1205.3 420.8C1208.6 416.2 1213.8 410.3 1216.1 407.0C1218.4 403.7 1217.1 404.0 1219.2 401.0C1221.2 398.0 1224.9 393.0 1228.2 389.0C1231.5 385.0 1235.1 381.0 1238.9 377.0C1242.7 373.0 1247.6 368.8 1251.1 365.0C1254.7 361.2 1257.6 357.2 1260.2 354.3C1262.7 351.5 1264.5 350.0 1266.6 348.0C1268.8 346.0 1270.9 344.1 1273.1 342.3C1275.2 340.5 1277.4 338.7 1279.5 337.2C1281.7 335.6 1283.8 334.0 1286.0 333.0C1288.1 331.9 1290.2 331.1 1292.4 330.7C1294.5 330.2 1296.7 330.3 1298.8 330.2C1301.0 330.1 1303.1 330.3 1305.3 330.2C1307.4 330.1 1310.0 330.1 1311.7 329.8C1313.5 329.6 1314.3 329.3 1315.6 328.8C1316.9 328.2 1318.0 327.4 1319.5 326.4C1321.0 325.4 1322.7 323.8 1324.6 322.8C1326.6 321.8 1328.9 320.9 1331.1 320.4C1333.2 319.9 1335.8 319.8 1337.5 319.9C1339.2 320.0 1340.1 320.3 1341.4 320.9C1342.7 321.4 1343.8 322.3 1345.3 323.1C1346.8 323.9 1347.8 324.8 1350.4 325.7C1353.1 326.6 1358.4 327.9 1361.3 328.5C1364.2 329.2 1365.6 329.3 1367.7 329.6C1369.9 329.9 1372.0 330.8 1374.2 330.4C1376.3 330.0 1378.5 328.7 1380.6 327.2C1382.8 325.8 1384.9 323.2 1387.1 321.8C1389.2 320.4 1391.9 319.3 1393.5 318.7C1395.1 318.1 1395.5 318.1 1396.7 318.3C1398.0 318.6 1399.6 318.5 1401.3 320.1C1402.9 321.8 1404.5 324.8 1406.4 328.2C1408.4 331.5 1410.7 336.3 1412.9 340.2C1415.0 344.0 1417.2 347.9 1419.3 351.2C1421.5 354.5 1423.6 357.7 1425.8 359.9C1427.9 362.2 1430.1 363.8 1432.2 365.0C1434.4 366.2 1436.5 366.9 1438.7 367.1C1440.8 367.4 1443.0 367.1 1445.1 366.7C1447.2 366.2 1449.4 365.1 1451.5 364.4C1453.7 363.7 1455.8 362.9 1458.0 362.5C1460.1 362.0 1462.3 361.6 1464.4 361.6C1466.6 361.7 1468.7 362.2 1470.9 362.8C1473.0 363.5 1475.2 364.6 1477.3 365.6C1479.5 366.5 1481.6 367.3 1483.8 368.6C1485.9 369.9 1488.1 371.5 1490.2 373.2C1492.4 374.8 1494.5 376.8 1496.7 378.4C1498.8 380.0 1501.3 381.8 1503.1 382.9C1504.9 383.9 1505.7 384.5 1507.4 384.7C1509.2 384.8 1511.7 383.6 1513.9 383.6C1516.0 383.5 1518.1 383.6 1520.3 384.3C1522.4 385.0 1524.7 386.2 1526.7 387.5C1528.6 388.8 1530.0 390.4 1531.8 392.3C1533.6 394.2 1535.7 395.8 1537.6 398.8C1539.4 401.9 1541.5 406.8 1543.1 410.8C1544.6 414.7 1545.6 418.7 1546.9 422.7C1548.2 426.7 1549.6 430.6 1550.8 434.6C1551.9 438.6 1553.3 444.0 1553.8 446.5C1554.4 449.1 1553.5 447.4 1554.2 450.0C1554.9 452.6 1556.5 457.9 1558.1 461.9C1559.7 465.9 1561.9 470.7 1563.8 473.8C1565.8 477.0 1567.8 479.0 1569.6 481.0C1571.4 483.0 1573.3 484.0 1574.7 485.8C1576.1 487.5 1577.1 489.7 1577.9 491.7C1578.8 493.7 1579.2 494.7 1579.9 497.7C1580.5 500.7 1581.1 505.6 1581.8 509.6C1582.4 513.6 1582.9 518.3 1583.8 521.5C1584.8 524.7 1585.7 525.6 1587.3 528.7C1588.9 531.8 1592.5 538.1 1593.5 540.0" stroke="#00b84a" stroke-width="7.1" fill="none" stroke-linejoin="round" stroke-linecap="round"/>
<path d="M371.0 632.0C372.6 629.5 378.4 620.1 380.5 617.0C382.7 613.9 382.7 615.2 384.0 613.5C385.3 611.8 387.1 608.8 388.3 607.0C389.4 605.2 390.0 604.1 390.9 602.8C391.7 601.5 392.4 600.6 393.6 599.0C394.9 597.4 396.4 595.2 398.3 593.0C400.2 590.8 403.0 588.2 405.1 586.0C407.2 583.8 408.8 581.8 410.9 579.5C412.9 577.2 415.1 574.6 417.2 572.2C419.3 569.8 421.2 567.6 423.2 565.3C425.3 563.0 427.3 560.7 429.4 558.5C431.4 556.2 433.5 553.9 435.6 551.6C437.7 549.3 439.9 547.0 442.2 544.7C444.4 542.4 446.8 540.1 449.2 537.8C451.6 535.5 453.2 533.9 456.6 530.9C459.9 527.9 464.9 523.3 469.1 519.6C473.3 515.8 477.7 511.9 482.0 508.2C486.3 504.4 490.5 500.6 494.8 497.0C499.1 493.4 503.4 489.8 507.7 486.6C511.9 483.4 516.9 480.1 520.5 477.8C524.0 475.6 526.2 474.5 529.1 473.0C531.9 471.5 534.4 470.2 537.6 469.0C540.9 467.8 544.8 466.8 548.4 465.8C552.0 464.8 555.6 463.9 559.1 463.0C562.7 462.1 566.6 461.2 569.9 460.6C573.2 460.0 576.2 459.7 579.1 459.5C582.1 459.3 584.8 459.2 587.7 459.4C590.7 459.6 593.7 460.1 596.8 460.8C599.9 461.5 602.7 462.4 606.4 463.5C610.2 464.5 615.0 465.9 619.3 466.9C623.6 468.0 627.9 468.9 632.2 469.6C636.5 470.2 640.8 470.5 645.1 470.9C649.4 471.3 653.7 471.4 658.0 472.0C662.3 472.5 666.6 473.4 670.9 474.3C675.2 475.2 680.1 476.4 683.8 477.4C687.5 478.4 690.0 479.1 693.2 480.2C696.4 481.4 700.4 483.4 703.1 484.6C705.9 485.8 707.4 486.8 709.6 487.4C711.7 488.1 713.9 488.2 716.0 488.4C718.2 488.6 720.3 488.7 722.5 488.6C724.6 488.6 726.8 488.6 728.9 488.3C731.1 488.0 732.2 487.8 735.4 486.8C738.6 485.9 745.0 483.8 748.3 482.8C751.5 481.8 752.6 481.4 754.7 480.8C756.9 480.2 757.2 480.0 761.2 479.2C765.1 478.3 771.6 476.6 778.5 475.8C785.3 475.0 795.9 474.4 802.3 474.3C808.8 474.1 812.5 474.6 817.2 474.9C821.8 475.2 826.0 475.6 830.1 476.1C834.1 476.6 837.8 477.3 841.7 477.9C845.5 478.5 850.5 479.3 853.3 479.7C856.1 480.1 855.8 480.3 858.4 480.2C861.0 480.2 865.9 479.9 868.7 479.2C871.5 478.5 873.0 477.4 875.2 476.2C877.3 474.9 879.5 473.4 881.6 471.7C883.8 470.0 886.3 467.7 888.1 466.0C889.9 464.3 890.6 463.4 892.5 461.5C894.3 459.7 896.7 457.0 898.9 454.9C901.0 452.9 903.2 451.0 905.3 449.3C907.5 447.6 909.6 446.1 911.8 444.8C913.9 443.4 916.1 442.2 918.2 441.0C920.4 439.8 922.5 438.6 924.7 437.6C926.8 436.5 929.0 435.5 931.1 434.6C933.3 433.7 935.4 432.9 937.6 432.2C939.7 431.4 941.9 430.8 944.0 430.1C946.2 429.5 948.3 428.8 950.5 428.2C952.6 427.6 954.8 427.1 956.9 426.5C959.1 426.0 961.2 425.5 963.4 425.0C965.5 424.4 967.7 424.0 969.8 423.4C972.0 422.9 974.1 422.3 976.3 421.7C978.4 421.2 980.6 420.7 982.7 420.2C984.9 419.7 987.0 419.0 989.2 418.6C991.3 418.2 993.5 417.8 995.6 417.7C997.8 417.6 999.9 417.8 1002.1 418.0C1004.2 418.2 1006.4 418.5 1008.5 418.9C1010.7 419.2 1012.8 419.8 1014.9 420.2C1017.1 420.6 1019.2 421.0 1021.4 421.3C1023.5 421.5 1025.7 421.7 1027.8 421.9C1030.0 422.0 1032.1 422.0 1034.3 422.0C1036.4 421.9 1038.6 421.8 1040.7 421.6C1042.9 421.4 1045.1 420.9 1047.3 420.6C1049.5 420.3 1051.6 420.1 1053.7 419.8C1055.9 419.6 1058.0 419.4 1060.2 419.2C1062.3 419.1 1064.5 418.8 1066.6 418.8C1068.8 418.7 1071.1 418.6 1073.1 418.8C1075.0 418.9 1076.5 419.1 1078.2 419.7C1080.0 420.3 1081.7 421.0 1083.4 422.4C1085.1 423.7 1086.8 425.7 1088.6 427.8C1090.3 429.9 1092.1 432.6 1093.7 434.9C1095.3 437.3 1096.3 438.8 1098.3 442.0C1100.3 445.2 1103.3 450.0 1105.5 454.0C1107.8 458.0 1109.7 462.0 1111.7 466.0C1113.7 470.0 1115.5 474.0 1117.4 478.0C1119.3 482.0 1121.1 486.0 1122.9 490.0C1124.7 494.0 1126.6 498.6 1128.2 502.0C1129.9 505.3 1131.5 506.7 1132.9 510.0C1134.3 513.3 1135.7 519.0 1136.5 522.0C1137.3 525.0 1137.3 526.0 1137.8 528.0C1138.3 530.0 1138.2 531.9 1139.4 534.0C1140.5 536.1 1142.9 538.3 1144.9 540.6C1146.9 542.9 1149.5 546.1 1151.3 547.8C1153.2 549.5 1154.2 550.8 1155.9 550.8C1157.5 550.8 1159.4 549.0 1161.0 547.8C1162.6 546.6 1164.0 544.9 1165.3 543.6C1166.5 542.3 1167.3 541.6 1168.4 540.0C1169.4 538.4 1170.1 537.0 1171.7 534.0C1173.3 531.0 1176.0 526.0 1178.0 522.0C1180.1 518.0 1182.3 515.3 1184.2 510.0C1186.1 504.7 1187.8 495.3 1189.3 490.0C1190.9 484.6 1192.1 482.0 1193.7 478.0C1195.3 474.0 1196.9 470.0 1198.9 466.0C1200.8 462.0 1201.8 458.8 1205.3 454.0C1208.9 449.1 1216.2 441.8 1220.2 437.0C1224.2 432.1 1226.0 429.0 1229.2 425.0C1232.4 421.0 1235.7 417.0 1239.5 413.0C1243.4 409.0 1248.1 405.0 1252.2 401.0C1256.2 397.0 1259.7 393.0 1263.8 389.0C1267.9 385.0 1273.5 380.0 1276.7 377.0C1279.8 374.0 1280.1 373.5 1282.7 371.0C1285.3 368.5 1289.7 363.3 1292.4 361.7C1295.1 360.2 1296.7 361.3 1298.8 361.5C1301.0 361.7 1303.1 362.8 1305.3 362.8C1307.4 362.9 1309.6 362.6 1311.7 361.9C1313.9 361.1 1316.0 359.5 1318.2 358.2C1320.3 356.8 1322.5 355.0 1324.6 354.0C1326.8 352.9 1328.9 352.2 1331.1 351.8C1333.2 351.4 1335.4 351.6 1337.5 351.8C1339.7 352.0 1341.8 352.9 1344.0 353.2C1346.1 353.6 1347.5 353.7 1350.4 353.8C1353.3 354.0 1358.4 354.1 1361.3 354.3C1364.2 354.5 1365.4 354.8 1367.7 355.2C1370.1 355.5 1373.3 356.5 1375.5 356.5C1377.6 356.5 1378.7 355.7 1380.6 355.2C1382.6 354.6 1385.1 353.7 1387.1 353.4C1389.0 353.0 1390.5 352.6 1392.2 353.1C1394.0 353.6 1395.9 354.7 1397.4 356.4C1398.9 358.0 1399.3 359.5 1401.3 362.9C1403.2 366.4 1407.0 372.7 1409.0 377.0C1411.0 381.3 1412.1 385.0 1413.5 389.0C1414.9 393.0 1416.0 397.0 1417.4 401.0C1418.8 405.0 1420.6 409.9 1421.9 413.0C1423.2 416.1 1423.8 417.4 1425.1 419.6C1426.4 421.8 1428.0 424.4 1429.6 426.2C1431.2 428.0 1433.3 429.5 1434.8 430.4C1436.3 431.2 1436.9 431.4 1438.7 431.2C1440.4 431.0 1443.0 430.3 1445.1 429.2C1447.2 428.0 1449.4 426.0 1451.5 424.4C1453.7 422.8 1455.8 421.0 1458.0 419.6C1460.1 418.1 1462.3 416.6 1464.4 415.8C1466.6 415.0 1468.7 414.7 1470.9 414.8C1473.0 414.8 1475.2 415.1 1477.3 416.0C1479.5 416.8 1481.6 418.2 1483.8 419.9C1485.9 421.7 1488.1 424.0 1490.2 426.4C1492.4 428.8 1494.5 431.9 1496.7 434.3C1498.8 436.8 1500.2 438.5 1503.1 441.1C1506.1 443.8 1511.0 446.5 1514.5 450.0C1518.0 453.5 1521.4 457.9 1524.1 461.9C1526.8 465.9 1528.7 469.9 1530.8 473.8C1532.9 477.8 1535.0 481.8 1536.7 485.8C1538.3 489.7 1539.5 493.7 1540.8 497.7C1542.0 501.7 1542.9 505.6 1544.0 509.6C1545.0 513.6 1546.5 519.0 1547.2 521.5C1547.9 524.1 1547.2 522.4 1548.1 525.0C1549.0 527.6 1551.3 533.8 1552.6 537.0C1553.9 540.2 1554.6 542.4 1555.8 544.2C1557.0 546.0 1558.1 547.4 1559.7 547.8C1561.3 548.2 1563.4 547.1 1565.5 546.6C1567.5 546.1 1570.1 544.7 1571.9 544.8C1573.8 544.9 1575.3 545.7 1576.4 547.2C1577.6 548.7 1578.3 551.5 1579.0 553.8C1579.8 556.1 1580.3 557.8 1581.0 561.0C1581.6 564.2 1582.3 569.0 1582.9 573.0C1583.5 577.0 1584.0 581.0 1584.6 585.0C1585.1 589.0 1585.5 592.4 1586.1 597.0C1586.7 601.5 1587.7 609.9 1588.0 612.5" stroke="#d88456" stroke-width="7.1" fill="none" stroke-linejoin="round" stroke-linecap="round"/>
<path d="M369.4 632.0C370.9 629.5 376.5 620.1 378.5 617.0C380.5 613.9 380.2 615.2 381.3 613.5C382.4 611.8 384.2 608.8 385.3 607.0C386.3 605.2 386.9 604.1 387.6 602.8C388.4 601.5 388.9 600.6 389.9 599.0C390.9 597.4 392.2 595.2 393.8 593.0C395.3 590.8 397.2 588.2 399.0 586.0C400.9 583.8 402.8 581.8 404.9 579.5C407.1 577.2 409.5 574.6 411.7 572.2C413.9 569.8 416.1 567.6 418.3 565.3C420.5 563.0 422.7 560.7 425.1 558.5C427.4 556.2 430.0 553.9 432.6 551.6C435.1 549.3 437.8 547.0 440.4 544.7C443.0 542.4 445.7 540.1 448.3 537.8C450.9 535.5 452.7 533.9 456.1 530.9C459.5 527.9 464.5 523.3 468.8 519.6C473.1 515.8 477.4 511.9 481.7 508.2C486.0 504.4 490.3 500.6 494.6 497.0C498.9 493.4 503.2 489.8 507.5 486.6C511.8 483.4 516.8 480.1 520.4 477.8C524.0 475.6 526.2 474.4 529.0 473.0C531.9 471.6 534.4 470.4 537.6 469.3C540.9 468.2 544.8 467.2 548.4 466.3C552.0 465.4 555.6 464.4 559.1 463.7C562.7 463.0 566.6 462.5 569.9 462.2C573.2 461.9 576.2 461.7 579.1 461.7C582.1 461.7 585.1 461.8 587.7 462.2C590.4 462.6 592.5 463.3 594.9 464.0C597.3 464.7 600.2 465.6 602.2 466.2C604.1 466.8 603.6 466.5 606.5 467.5C609.3 468.5 615.0 470.8 619.3 472.0C623.6 473.1 627.9 473.8 632.2 474.5C636.5 475.2 640.8 475.5 645.1 475.9C649.4 476.4 653.7 476.5 658.0 477.0C662.3 477.6 666.6 478.3 670.9 479.2C675.2 480.0 680.1 481.1 683.8 482.2C687.5 483.3 690.0 484.3 693.2 485.8C696.4 487.3 700.4 489.8 703.1 491.2C705.9 492.6 707.4 493.4 709.6 494.2C711.7 494.9 713.9 495.3 716.0 495.6C718.2 495.9 720.3 495.9 722.5 496.0C724.6 496.0 726.8 496.0 728.9 495.7C731.1 495.4 732.2 495.2 735.4 494.2C738.6 493.1 745.0 490.6 748.3 489.4C751.5 488.2 752.6 487.8 754.7 487.0C756.9 486.1 757.2 485.3 761.2 484.2C765.1 483.1 771.6 480.9 778.5 480.4C785.3 479.8 795.9 480.7 802.3 481.0C808.8 481.3 812.5 481.7 817.2 482.2C821.8 482.7 826.0 483.3 830.1 484.0C834.1 484.6 837.8 485.6 841.7 486.2C845.5 486.9 849.8 487.5 853.3 487.7C856.7 487.9 859.7 487.8 862.3 487.4C864.9 487.1 866.6 486.2 868.7 485.4C870.9 484.6 873.0 483.6 875.2 482.5C877.3 481.4 879.5 480.1 881.6 478.9C883.8 477.8 885.9 476.7 888.1 475.7C890.2 474.7 892.1 474.0 894.5 473.2C897.0 472.3 899.7 471.4 902.9 470.5C906.1 469.7 911.0 468.9 913.9 468.3C916.8 467.6 918.0 467.4 920.3 466.6C922.7 465.8 925.5 464.6 928.1 463.3C930.6 462.1 932.1 461.6 935.8 459.3C939.5 457.0 947.0 451.7 950.5 449.6C954.0 447.4 954.8 447.2 956.9 446.2C959.1 445.2 961.2 444.3 963.4 443.3C965.5 442.3 967.7 441.3 969.8 440.3C972.0 439.3 974.1 438.5 976.3 437.4C978.4 436.4 980.6 435.3 982.7 434.2C984.9 433.1 987.0 431.9 989.2 430.7C991.3 429.5 993.5 428.2 995.6 427.1C997.8 426.1 1000.3 424.9 1002.1 424.4C1003.8 423.8 1004.6 423.7 1005.9 423.7C1007.2 423.6 1008.3 423.8 1009.8 424.2C1011.3 424.7 1013.0 425.3 1014.9 426.2C1016.9 427.0 1019.2 428.1 1021.4 429.2C1023.5 430.3 1025.7 431.6 1027.8 432.8C1030.0 434.0 1032.1 435.2 1034.3 436.4C1036.4 437.5 1038.6 438.7 1040.7 439.7C1042.9 440.8 1045.0 441.8 1047.2 442.7C1049.3 443.6 1051.5 444.6 1053.6 445.2C1055.8 445.9 1058.4 446.2 1060.2 446.6C1062.0 446.9 1062.7 447.2 1064.5 447.4C1066.3 447.6 1068.8 447.4 1071.0 447.8C1073.1 448.2 1075.3 448.6 1077.4 449.7C1079.6 450.8 1081.7 452.3 1083.9 454.2C1086.0 456.1 1088.2 458.6 1090.3 461.1C1092.5 463.6 1094.7 466.7 1096.8 469.3C1098.8 471.9 1100.7 473.6 1102.7 477.0C1104.7 480.4 1106.8 485.8 1108.8 490.0C1110.8 494.2 1112.2 496.7 1114.6 502.0C1117.0 507.3 1121.1 516.7 1123.2 522.0C1125.3 527.3 1125.9 530.0 1127.2 534.0C1128.5 538.0 1129.8 542.0 1131.0 546.0C1132.2 550.0 1133.3 554.0 1134.3 558.0C1135.4 562.0 1136.7 567.0 1137.4 570.0C1138.2 573.0 1137.5 573.7 1138.7 576.0C1140.0 578.3 1142.8 581.3 1144.9 583.7C1147.0 586.2 1149.5 589.0 1151.3 590.9C1153.2 592.9 1154.5 595.1 1155.9 595.4C1157.3 595.7 1158.3 594.0 1159.7 592.7C1161.1 591.5 1162.6 589.7 1164.2 587.9C1165.9 586.1 1167.6 584.9 1169.4 582.0C1171.2 579.0 1173.1 574.0 1174.8 570.0C1176.5 566.0 1178.1 562.0 1179.7 558.0C1181.3 554.0 1182.9 550.0 1184.5 546.0C1186.1 542.0 1187.6 538.0 1189.3 534.0C1190.9 530.0 1192.7 526.0 1194.4 522.0C1196.2 518.0 1197.1 515.3 1199.8 510.0C1202.6 504.7 1207.8 495.3 1210.9 490.0C1213.9 484.6 1215.5 482.0 1218.2 478.0C1220.9 474.0 1221.3 471.6 1227.0 466.0C1232.7 460.3 1246.9 448.8 1252.4 444.1C1258.0 439.5 1257.8 439.9 1260.2 437.9C1262.5 436.0 1264.5 434.3 1266.6 432.4C1268.8 430.5 1270.9 428.9 1273.1 426.8C1275.2 424.6 1277.4 422.3 1279.5 419.6C1281.7 416.8 1284.2 412.7 1286.0 410.3C1287.7 408.0 1288.3 406.7 1289.8 405.5C1291.4 404.4 1293.3 403.6 1295.2 403.4C1297.2 403.2 1299.3 404.1 1301.4 404.3C1303.5 404.6 1305.7 405.0 1307.9 404.9C1310.0 404.8 1312.2 404.5 1314.3 403.7C1316.5 403.0 1318.6 401.3 1320.8 400.4C1322.9 399.4 1325.0 398.6 1327.2 398.0C1329.5 397.3 1331.9 396.8 1334.3 396.4C1336.7 396.1 1338.9 395.9 1341.4 395.9C1343.9 395.9 1346.6 396.0 1349.1 396.4C1351.7 396.8 1354.8 397.6 1356.9 398.3C1358.9 399.1 1359.5 400.1 1361.3 401.1C1363.1 402.1 1365.6 403.2 1367.7 404.2C1369.9 405.2 1372.0 406.3 1374.2 407.0C1376.3 407.7 1378.5 407.9 1380.6 408.5C1382.8 409.2 1385.1 409.9 1387.1 410.9C1389.0 412.0 1390.6 413.4 1392.2 414.8C1393.8 416.1 1395.4 417.3 1396.7 419.0C1398.1 420.7 1398.9 422.0 1400.2 425.0C1401.5 428.0 1403.2 433.6 1404.5 437.0C1405.7 440.3 1406.5 441.7 1407.7 445.0C1408.9 448.3 1410.2 453.0 1411.6 457.0C1413.0 461.0 1414.7 465.0 1416.1 469.0C1417.5 473.0 1418.6 477.0 1420.0 481.0C1421.4 485.0 1423.2 490.0 1424.5 493.0C1425.8 496.0 1426.4 497.5 1427.7 499.0C1429.0 500.4 1430.6 501.5 1432.2 501.6C1433.8 501.7 1435.9 500.6 1437.4 499.6C1438.9 498.5 1440.0 496.8 1441.3 495.4C1442.5 494.0 1443.4 493.1 1445.1 491.2C1446.8 489.3 1449.4 486.4 1451.6 484.0C1453.7 481.5 1455.9 478.9 1458.0 476.4C1460.2 474.0 1462.5 470.8 1464.5 469.2C1466.4 467.6 1467.5 466.9 1469.6 466.9C1471.8 466.9 1475.0 467.5 1477.4 469.2C1479.7 471.0 1481.3 474.0 1483.8 477.4C1486.3 480.8 1489.3 484.8 1492.2 489.6C1495.0 494.4 1498.5 501.3 1501.1 506.0C1503.6 510.7 1505.7 514.8 1507.4 518.0C1509.2 521.2 1509.7 521.8 1511.6 525.0C1513.4 528.2 1515.8 533.0 1518.4 537.0C1521.1 541.0 1524.8 546.0 1527.4 549.0C1530.1 552.0 1532.6 553.2 1534.5 555.0C1536.5 556.8 1537.3 556.8 1539.0 559.8C1540.8 562.8 1543.2 568.8 1545.1 573.0C1547.0 577.2 1548.4 581.0 1550.3 585.0C1552.1 589.0 1553.9 593.0 1556.2 597.0C1558.5 600.9 1560.9 604.3 1564.2 608.9C1567.5 613.5 1573.9 621.9 1575.8 624.5" stroke="#66fbf6" stroke-width="7.1" fill="none" stroke-linejoin="round" stroke-linecap="round"/>
</g>
</g>
<path fill-rule="evenodd" fill="#000" d="M101.1 68.3H1477.3V621.9H101.1ZM106 73.3V617.6H1472.8V73.3Z"/>
<rect x="141" y="16" width="40" height="40" fill="#231f20"/>
<g fill="none" stroke="#231f20" stroke-linejoin="miter" stroke-miterlimit="2.5"><path transform="translate(193.70 22.90) scale(26.200)" d="M0.051 0.5A0.362 0.456 0 1 0 0.775 0.5A0.362 0.456 0 1 0 0.051 0.5Z" stroke-width="0.1050"/><path transform="translate(221.50 22.90) scale(26.200)" d="M0.044 0.216A0.174 0.174 0 1 0 0.392 0.216A0.174 0.174 0 1 0 0.044 0.216Z" stroke-width="0.0870"/></g>
<rect x="335" y="16" width="40" height="40" fill="#960000"/>
<g fill="none" stroke="#231f20" stroke-linejoin="miter" stroke-miterlimit="2.5"><path transform="translate(385.80 22.90) scale(26.200)" d="M0.275 0V1" stroke-width="0.1120"/><path transform="translate(385.80 22.90) scale(26.200)" d="M0.025 0.153L0.25 0.05" stroke-width="0.0900"/><path transform="translate(401.60 22.90) scale(26.200)" d="M0.645 0.054H0.129L0.097 0.484C0.16 0.44 0.23 0.4385 0.383 0.4385A0.2645 0.2645 0 1 1 0.292 0.952Q0.129 0.946 0.032 0.849" stroke-width="0.1050"/><path transform="translate(424.90 22.90) scale(26.200)" d="M0.044 0.216A0.174 0.174 0 1 0 0.392 0.216A0.174 0.174 0 1 0 0.044 0.216Z" stroke-width="0.0870"/></g>
<rect x="538" y="16" width="40" height="40" fill="#00b84a"/>
<g fill="none" stroke="#231f20" stroke-linejoin="miter" stroke-miterlimit="2.5"><path transform="translate(590.30 22.90) scale(26.200)" d="M0.042 0.053H0.64L0.267 0.485A0.2436 0.2436 0 1 1 0.305 0.933Q0.152 0.917 0.068 0.788" stroke-width="0.1050"/><path transform="translate(614.10 22.90) scale(26.200)" d="M0.051 0.5A0.362 0.456 0 1 0 0.775 0.5A0.362 0.456 0 1 0 0.051 0.5Z" stroke-width="0.1050"/><path transform="translate(642.10 22.90) scale(26.200)" d="M0.044 0.216A0.174 0.174 0 1 0 0.392 0.216A0.174 0.174 0 1 0 0.044 0.216Z" stroke-width="0.0870"/></g>
<rect x="755" y="16" width="40" height="40" fill="#d88456"/>
<g fill="none" stroke="#231f20" stroke-linejoin="miter" stroke-miterlimit="2.5"><path transform="translate(817.80 22.90) scale(26.200)" d="M0.828 0.727H0.105L0.605 0.07" stroke-width="0.1050"/><path transform="translate(817.80 22.90) scale(26.200)" d="M0.609 0V1" stroke-width="0.1080"/><path transform="translate(844.20 22.90) scale(26.200)" d="M0.645 0.054H0.129L0.097 0.484C0.16 0.44 0.23 0.4385 0.383 0.4385A0.2645 0.2645 0 1 1 0.292 0.952Q0.129 0.946 0.032 0.849" stroke-width="0.1050"/><path transform="translate(867.20 22.90) scale(26.200)" d="M0.044 0.216A0.174 0.174 0 1 0 0.392 0.216A0.174 0.174 0 1 0 0.044 0.216Z" stroke-width="0.0870"/></g>
<rect x="969" y="16" width="40" height="40" fill="#66fbf6"/>
<g fill="none" stroke="#231f20" stroke-linejoin="miter" stroke-miterlimit="2.5"><path transform="translate(1033.20 22.90) scale(26.200)" d="M0.649 0.149C0.574 0.074 0.479 0.051 0.383 0.051C0.191 0.051 0.051 0.287 0.051 0.696A0.321 0.262 0 1 0 0.694 0.696A0.321 0.262 0 1 0 0.051 0.696" stroke-width="0.1050"/><path transform="translate(1058.20 22.90) scale(26.200)" d="M0.051 0.5A0.362 0.456 0 1 0 0.775 0.5A0.362 0.456 0 1 0 0.051 0.5Z" stroke-width="0.1050"/><path transform="translate(1086.20 22.90) scale(26.200)" d="M0.044 0.216A0.174 0.174 0 1 0 0.392 0.216A0.174 0.174 0 1 0 0.044 0.216Z" stroke-width="0.0870"/></g>
<g fill="none" stroke="#231f20" stroke-linejoin="miter" stroke-miterlimit="2.5"><path transform="translate(26.70 63.05) scale(24.000)" d="M0.275 0V1" stroke-width="0.1176"/><path transform="translate(26.70 63.05) scale(24.000)" d="M0.025 0.153L0.25 0.05" stroke-width="0.0945"/><path transform="translate(39.90 63.05) scale(24.000)" d="M0.275 0V1" stroke-width="0.1176"/><path transform="translate(39.90 63.05) scale(24.000)" d="M0.025 0.153L0.25 0.05" stroke-width="0.0945"/><path transform="translate(54.20 63.05) scale(24.000)" d="M0.051 0.5A0.362 0.456 0 1 0 0.775 0.5A0.362 0.456 0 1 0 0.051 0.5Z" stroke-width="0.1103"/></g>
<g fill="none" stroke="#231f20" stroke-linejoin="miter" stroke-miterlimit="2.5"><path transform="translate(14.20 199.10) scale(24.000)" d="M0.275 0V1" stroke-width="0.1176"/><path transform="translate(14.20 199.10) scale(24.000)" d="M0.025 0.153L0.25 0.05" stroke-width="0.0945"/><path transform="translate(28.90 199.10) scale(24.000)" d="M0.051 0.5A0.362 0.456 0 1 0 0.775 0.5A0.362 0.456 0 1 0 0.051 0.5Z" stroke-width="0.1103"/><path transform="translate(54.30 199.10) scale(24.000)" d="M0.051 0.5A0.362 0.456 0 1 0 0.775 0.5A0.362 0.456 0 1 0 0.051 0.5Z" stroke-width="0.1103"/></g>
<g fill="none" stroke="#231f20" stroke-linejoin="miter" stroke-miterlimit="2.5"><path transform="translate(31.00 333.15) scale(24.000)" d="M0.05 0.311A0.314 0.26 0 1 0 0.678 0.311A0.314 0.26 0 1 0 0.05 0.311ZM0.678 0.311C0.678 0.72 0.55 0.949 0.36 0.949C0.25 0.949 0.15 0.92 0.08 0.85" stroke-width="0.1103"/><path transform="translate(54.30 333.15) scale(24.000)" d="M0.051 0.5A0.362 0.456 0 1 0 0.775 0.5A0.362 0.456 0 1 0 0.051 0.5Z" stroke-width="0.1103"/></g>
<g fill="none" stroke="#231f20" stroke-linejoin="miter" stroke-miterlimit="2.5"><path transform="translate(31.20 473.20) scale(24.000)" d="M0.092 0.25A0.277 0.2 0 1 0 0.646 0.25A0.277 0.2 0 1 0 0.092 0.25ZM0.0505 0.725A0.3125 0.2234 0 1 0 0.6755 0.725A0.3125 0.2234 0 1 0 0.0505 0.725Z" stroke-width="0.1103"/><path transform="translate(54.30 473.20) scale(24.000)" d="M0.051 0.5A0.362 0.456 0 1 0 0.775 0.5A0.362 0.456 0 1 0 0.051 0.5Z" stroke-width="0.1103"/></g>
<g fill="none" stroke="#231f20" stroke-linejoin="miter" stroke-miterlimit="2.5"><path transform="translate(34.00 606.75) scale(24.000)" d="M0 0.05H0.612L0.165 1" stroke-width="0.1103"/><path transform="translate(54.50 606.75) scale(24.000)" d="M0.051 0.5A0.362 0.456 0 1 0 0.775 0.5A0.362 0.456 0 1 0 0.051 0.5Z" stroke-width="0.1103"/></g>
<g fill="none" stroke="#231f20" stroke-linejoin="miter" stroke-miterlimit="2.5"><path transform="translate(83.20 640.25) scale(24.100)" d="M0.109 0.234A0.278 0.278 0 1 1 0.552 0.539L0.077 0.949H0.70" stroke-width="0.1103"/><path transform="translate(105.30 640.25) scale(24.100)" d="M0.051 0.5A0.362 0.456 0 1 0 0.775 0.5A0.362 0.456 0 1 0 0.051 0.5Z" stroke-width="0.1103"/></g>
<g fill="none" stroke="#231f20" stroke-linejoin="miter" stroke-miterlimit="2.5"><path transform="translate(389.30 640.25) scale(24.100)" d="M0.275 0V1" stroke-width="0.1176"/><path transform="translate(389.30 640.25) scale(24.100)" d="M0.025 0.153L0.25 0.05" stroke-width="0.0945"/><path transform="translate(404.40 640.25) scale(24.100)" d="M0.051 0.5A0.362 0.456 0 1 0 0.775 0.5A0.362 0.456 0 1 0 0.051 0.5Z" stroke-width="0.1103"/><path transform="translate(430.30 640.25) scale(24.100)" d="M0.051 0.5A0.362 0.456 0 1 0 0.775 0.5A0.362 0.456 0 1 0 0.051 0.5Z" stroke-width="0.1103"/></g>
<g fill="none" stroke="#231f20" stroke-linejoin="miter" stroke-miterlimit="2.5"><path transform="translate(837.10 640.25) scale(24.100)" d="M0.275 0V1" stroke-width="0.1176"/><path transform="translate(837.10 640.25) scale(24.100)" d="M0.025 0.153L0.25 0.05" stroke-width="0.0945"/><path transform="translate(851.90 640.25) scale(24.100)" d="M0.051 0.5A0.362 0.456 0 1 0 0.775 0.5A0.362 0.456 0 1 0 0.051 0.5Z" stroke-width="0.1103"/><path transform="translate(877.20 640.25) scale(24.100)" d="M0.051 0.5A0.362 0.456 0 1 0 0.775 0.5A0.362 0.456 0 1 0 0.051 0.5Z" stroke-width="0.1103"/><path transform="translate(902.40 640.25) scale(24.100)" d="M0.051 0.5A0.362 0.456 0 1 0 0.775 0.5A0.362 0.456 0 1 0 0.051 0.5Z" stroke-width="0.1103"/></g>
<g fill="none" stroke="#231f20" stroke-linejoin="miter" stroke-miterlimit="2.5"><path transform="translate(1287.10 640.25) scale(24.100)" d="M0.275 0V1" stroke-width="0.1176"/><path transform="translate(1287.10 640.25) scale(24.100)" d="M0.025 0.153L0.25 0.05" stroke-width="0.0945"/><path transform="translate(1302.30 640.25) scale(24.100)" d="M0.051 0.5A0.362 0.456 0 1 0 0.775 0.5A0.362 0.456 0 1 0 0.051 0.5Z" stroke-width="0.1103"/><path transform="translate(1327.80 640.25) scale(24.100)" d="M0.051 0.5A0.362 0.456 0 1 0 0.775 0.5A0.362 0.456 0 1 0 0.051 0.5Z" stroke-width="0.1103"/><path transform="translate(1353.30 640.25) scale(24.100)" d="M0.051 0.5A0.362 0.456 0 1 0 0.775 0.5A0.362 0.456 0 1 0 0.051 0.5Z" stroke-width="0.1103"/><path transform="translate(1378.80 640.25) scale(24.100)" d="M0.051 0.5A0.362 0.456 0 1 0 0.775 0.5A0.362 0.456 0 1 0 0.051 0.5Z" stroke-width="0.1103"/></g>
<g fill="none" stroke="#231f20" stroke-linejoin="miter" stroke-miterlimit="2.5"><path transform="translate(583.70 678.60) scale(25.000)" d="M0.064 1V0.055H0.754M0.064 0.515H0.69" stroke-width="0.1110"/><path transform="translate(607.15 678.60) scale(25.000)" d="M0.053 0.258V1M0.053 0.56C0.08 0.40 0.20 0.311 0.40 0.318" stroke-width="0.1110"/><path transform="translate(622.00 678.60) scale(25.000)" d="M0.06 0.622H0.653A0.30 0.337 0 1 0 0.56 0.88" stroke-width="0.1110"/><path transform="translate(644.80 678.60) scale(25.000)" d="M0.053 0.632A0.3046 0.337 0 1 0 0.6622 0.632A0.3046 0.337 0 1 0 0.053 0.632ZM0.692 0.258V1.241" stroke-width="0.1110"/><path transform="translate(670.85 678.60) scale(25.000)" d="M0.053 0.258V0.70A0.278 0.27 0 0 0 0.609 0.70M0.609 0.258V1" stroke-width="0.1110"/><path transform="translate(693.70 678.60) scale(25.000)" d="M0.06 0.622H0.653A0.30 0.337 0 1 0 0.56 0.88" stroke-width="0.1110"/><path transform="translate(718.05 678.60) scale(25.000)" d="M0.053 0.258V1M0.053 0.56A0.26 0.263 0 0 1 0.573 0.56V1" stroke-width="0.1110"/><path transform="translate(739.90 678.60) scale(25.000)" d="M0.605 0.448A0.30 0.337 0 1 0 0.605 0.816" stroke-width="0.1110"/><path transform="translate(761.40 678.60) scale(25.000)" d="M0.054 0.258L0.385 1.0M0.693 0.258L0.33 1.10C0.29 1.19 0.20 1.22 0.05 1.17" stroke-width="0.1110"/><path transform="translate(795.00 678.60) scale(25.000)" d="M0.40 -0.02A0.718 0.718 0 0 0 0.40 1.21" stroke-width="0.1110"/><path transform="translate(813.05 678.60) scale(25.000)" d="M0.053 0V1M0.773 0V1M0.053 0.482H0.773" stroke-width="0.1110"/><path transform="translate(839.90 678.60) scale(25.000)" d="M0.025 0.311H0.64M0.0 0.947H0.655" stroke-width="0.1110"/><path transform="translate(839.90 678.60) scale(25.000)" d="M0.605 0.325L0.05 0.933" stroke-width="0.1110"/><path transform="translate(859.50 678.60) scale(25.000)" d="M0.054 -0.02A0.718 0.718 0 0 1 0.054 1.21" stroke-width="0.1110"/></g>
<text x="193" y="49" font-size="37">0°</text>
<text x="386" y="49" font-size="37">15°</text>
<text x="590" y="49" font-size="37">30°</text>
<text x="818" y="49" font-size="37">45°</text>
<text x="1033" y="49" font-size="37">60°</text>
<text x="26" y="87" font-size="34">110</text>
<text x="14" y="223" font-size="34">100</text>
<text x="31" y="357" font-size="34">90</text>
<text x="31" y="497" font-size="34">80</text>
<text x="34" y="631" font-size="34">70</text>
<text x="83" y="664" font-size="34">20</text>
<text x="389" y="664" font-size="34">100</text>
<text x="837" y="664" font-size="34">1000</text>
<text x="1287" y="664" font-size="34">10000</text>
<text x="583" y="704" font-size="36">Frequency (Hz)</text>
</svg></body></html>
